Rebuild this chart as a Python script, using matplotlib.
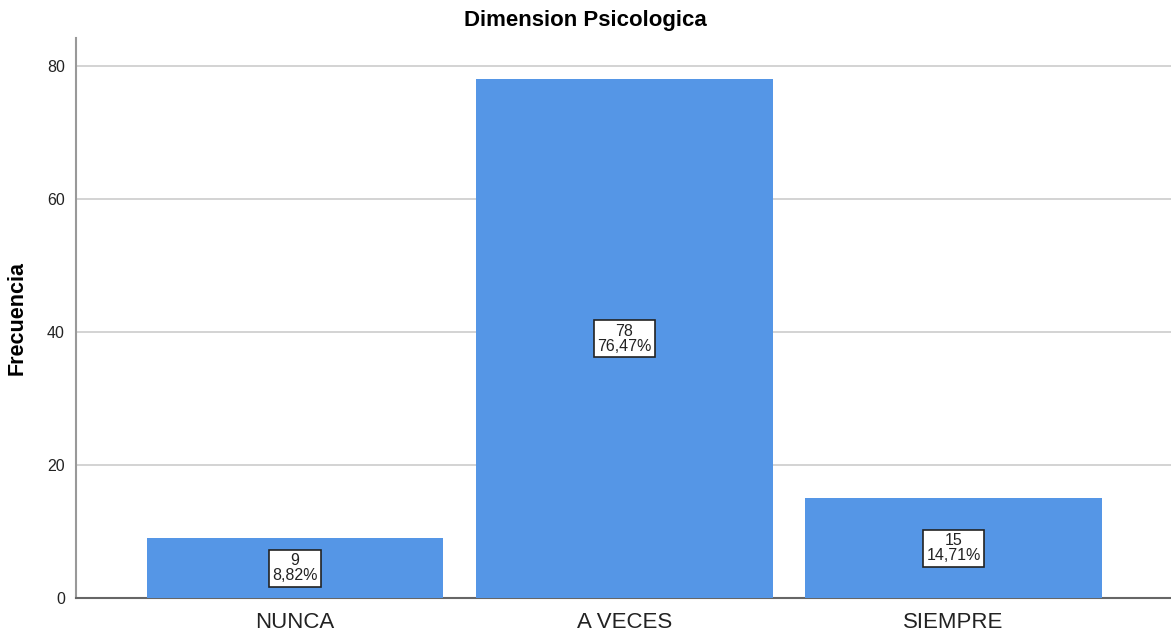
import matplotlib.pyplot as plt
import numpy as np

plt.rcParams['font.family'] = ['Liberation Sans', 'DejaVu Sans']

categorias = ['NUNCA', 'A VECES', 'SIEMPRE']
frecuencias = [9, 78, 15]
porcentajes = ['8,82%', '76,47%', '14,71%']

fig = plt.figure(figsize=(11.71, 6.34), dpi=100)
ax = fig.add_axes([0.0649, 0.0568, 0.9351, 0.8833])

x = np.arange(len(categorias))
ax.bar(x, frecuencias, width=0.9, color='#5596e6', zorder=3)

for i, f in enumerate(frecuencias):
    ax.text(x[i], f / 2, f"{f}\n{porcentajes[i]}", ha='center', va='center',
            fontsize=11.5, linespacing=1.0, color='#222222', zorder=4,
            bbox=dict(boxstyle='square,pad=0.22', fc='white', ec='#222222', lw=1.2))

ax.set_xlim(-0.665, 2.66)
ax.set_ylim(0, 84.2)
ax.set_yticks([0, 20, 40, 60, 80])
ax.set_xticks(x)
ax.set_xticklabels(categorias, fontsize=16, color='#222222')
ax.tick_params(axis='y', length=0, labelsize=11.5, pad=8, colors='#222222')
ax.tick_params(axis='x', length=0, pad=10)
ax.grid(axis='y', color='#cccccc', lw=1.2, zorder=0)

for s in ['top', 'right']:
    ax.spines[s].set_visible(False)
ax.spines['left'].set_color('#999999')
ax.spines['left'].set_linewidth(1.5)
ax.spines['bottom'].set_color('#666666')
ax.spines['bottom'].set_linewidth(1.5)

fig.text(0.5, 0.968, 'Dimension Psicologica', ha='center', va='center',
         fontsize=16, fontweight='bold')
ax.set_ylabel('Frecuencia', fontsize=15.5, fontweight='bold', labelpad=14)

fig.savefig('out.png', dpi=100)
